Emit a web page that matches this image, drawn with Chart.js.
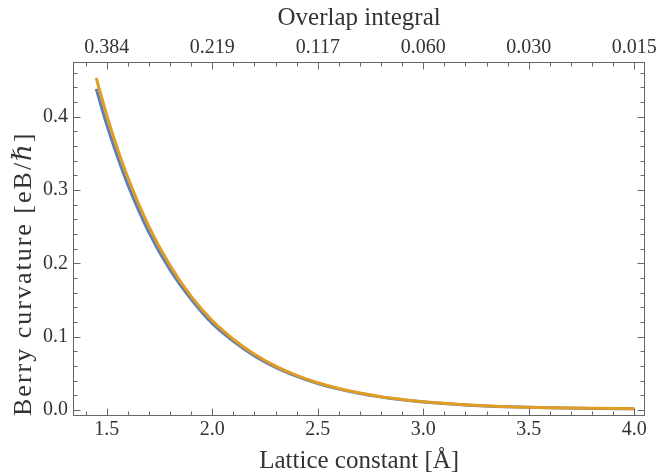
<!DOCTYPE html>
<html><head><meta charset="utf-8">
<script src="https://cdn.jsdelivr.net/npm/chart.js@4.4.0/dist/chart.umd.min.js"></script>
<style>html,body{margin:0;padding:0;background:#fff;}</style>
</head><body>
<canvas id="c" width="659" height="476"></canvas>
<script>
// ---- data ----
const latticeConstant = [1.45, 1.5, 1.55, 1.6, 1.7, 1.8, 1.9, 2.0, 2.1, 2.2, 2.3, 2.4, 2.5, 2.6, 2.7, 2.8, 2.9, 3.0, 3.2, 3.4, 3.6, 3.8, 4.0];
const berryBlue   = [0.438, 0.389, 0.346, 0.307, 0.242, 0.191, 0.151, 0.118, 0.0937, 0.0738, 0.0582, 0.0459, 0.0362, 0.0285, 0.0225, 0.0178, 0.0140, 0.0110, 0.0069, 0.0044, 0.0029, 0.0021, 0.0017];
const berryOrange = [0.453, 0.402, 0.357, 0.317, 0.250, 0.197, 0.155, 0.122, 0.0965, 0.0760, 0.0599, 0.0472, 0.0372, 0.0293, 0.0231, 0.0182, 0.0144, 0.0113, 0.0071, 0.0045, 0.0030, 0.0022, 0.0018];
const bottomTicks = [1.5, 2.0, 2.5, 3.0, 3.5, 4.0];
const bottomTickLabels = ["1.5", "2.0", "2.5", "3.0", "3.5", "4.0"];
const overlapTickLabels = ["0.384", "0.219", "0.117", "0.060", "0.030", "0.015"];
const leftTicks = [0.0, 0.1, 0.2, 0.3, 0.4];
const leftTickLabels = ["0.0", "0.1", "0.2", "0.3", "0.4"];

const FONT = "'Liberation Serif', 'DejaVu Serif', serif";
const TEXT = '#333333';
const FRAME = '#666666';
const X_MIN = 1.34, X_MAX = 4.052, Y_MIN = -0.0082, Y_MAX = 0.4746;

const framePlugin = {
  id: 'frame',
  afterUpdate(chart) {
    const s = chart.scales.y;
    if (s && !s._spaced) {
      const orig = s.drawTitle.bind(s);
      s.drawTitle = function () {
        const c = this.ctx;
        const prev = c.letterSpacing;
        c.letterSpacing = '2px';
        orig();
        c.letterSpacing = prev || '0px';
      };
      s._spaced = true;
    }
  },
  afterDraw(chart) {
    const {ctx, chartArea: a, scales} = chart;
    ctx.save();
    ctx.strokeStyle = FRAME;
    ctx.lineWidth = 1;
    const L = Math.round(a.left) + 0.5, R = Math.round(a.right) - 0.5;
    const T = Math.round(a.top) + 0.5, B = Math.round(a.bottom) - 0.5;
    ctx.strokeRect(L, T, R - L, B - T);
    ctx.beginPath();
    for (let k = 14; k <= 40; k++) {
      const v = k / 10;
      const len = (k % 5 === 0) ? 7 : 4;
      const px = Math.round(scales.x.getPixelForValue(v)) + 0.5;
      ctx.moveTo(px, B); ctx.lineTo(px, B - len);
      ctx.moveTo(px, T); ctx.lineTo(px, T + len);
    }
    for (let k = 0; k <= 23; k++) {
      const v = k * 0.02;
      const len = (k % 5 === 0) ? 7 : 4;
      const py = Math.round(scales.y.getPixelForValue(v)) + 0.5;
      ctx.moveTo(L, py); ctx.lineTo(L + len, py);
      ctx.moveTo(R, py); ctx.lineTo(R - len, py);
    }
    ctx.stroke();
    ctx.restore();
  }
};

const tickFont = {family: FONT, size: 20, lineHeight: 1.2};
const titleFont = {family: FONT, size: 25, lineHeight: 1};

new Chart(document.getElementById('c'), {
  type: 'line',
  data: {
    datasets: [
      {
        label: 'orange',
        data: latticeConstant.map((x, i) => ({x, y: berryOrange[i]})),
        borderColor: '#E19C24', borderWidth: 3, pointRadius: 0,
        cubicInterpolationMode: 'monotone', fill: false
      },
      {
        label: 'blue',
        data: latticeConstant.map((x, i) => ({x, y: berryBlue[i]})),
        borderColor: '#5E81B5', borderWidth: 3, pointRadius: 0,
        cubicInterpolationMode: 'monotone', fill: false
      }
    ]
  },
  options: {
    responsive: false,
    animation: false,
    devicePixelRatio: 1,
    layout: {padding: 0},
    plugins: {legend: {display: false}, tooltip: {enabled: false}},
    scales: {
      x: {
        type: 'linear', position: 'bottom', min: X_MIN, max: X_MAX,
        afterBuildTicks: s => { s.ticks = bottomTicks.map(v => ({value: v})); },
        ticks: {callback: (v, i) => bottomTickLabels[i], font: tickFont, color: TEXT, padding: 2, maxRotation: 0, autoSkip: false},
        grid: {display: false, drawTicks: false}, border: {display: false},
        title: {display: true, text: 'Lattice constant [Å]', font: titleFont, color: TEXT, padding: {top: 0, bottom: 2}},
        afterFit: s => { s.height = 60; }
      },
      x2: {
        type: 'linear', axis: 'x', position: 'top', min: X_MIN, max: X_MAX,
        afterBuildTicks: s => { s.ticks = bottomTicks.map(v => ({value: v})); },
        ticks: {callback: (v, i) => overlapTickLabels[i], font: tickFont, color: TEXT, padding: 2, maxRotation: 0, autoSkip: false},
        grid: {display: false, drawTicks: false}, border: {display: false},
        title: {display: true, text: 'Overlap integral', font: titleFont, color: TEXT, padding: {top: 6, bottom: 0}},
        afterFit: s => { s.height = 62; }
      },
      y: {
        type: 'linear', position: 'left', min: Y_MIN, max: Y_MAX,
        afterBuildTicks: s => { s.ticks = leftTicks.map(v => ({value: v})); },
        ticks: {callback: (v, i) => leftTickLabels[i], font: tickFont, color: TEXT, padding: 5, autoSkip: false},
        grid: {display: false, drawTicks: false}, border: {display: false},
        title: {display: true, align: 'start', text: 'Berry curvature [eB/ℏ]', font: {family: FONT, size: 26, lineHeight: 1}, color: TEXT, padding: {top: 11, bottom: 0}},
        afterFit: s => { s.width = 73; }
      },
      y2: {
        type: 'linear', axis: 'y', position: 'right', min: Y_MIN, max: Y_MAX,
        ticks: {display: false},
        grid: {display: false, drawTicks: false}, border: {display: false},
        afterFit: s => { s.width = 11; }
      }
    }
  },
  plugins: [framePlugin]
});
</script>
</body></html>
